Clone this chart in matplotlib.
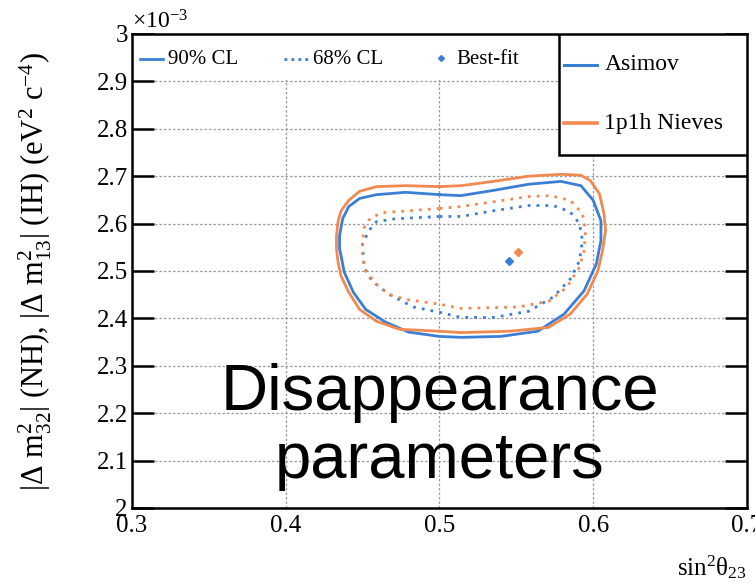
import matplotlib.pyplot as plt
from matplotlib.patches import Rectangle

plt.rcParams['font.family'] = ['Liberation Serif', 'DejaVu Serif']
plt.rcParams['mathtext.fontset'] = 'custom'
plt.rcParams['mathtext.rm'] = 'Liberation Serif'
plt.rcParams['mathtext.it'] = 'Liberation Serif:italic'

BLUE = '#3b7fd4'
ORANGE = '#f08a50'

# contours in (sin^2 theta23, |dm^2| in 1e-3 eV^2)
asimov_90_x = [0.500, 0.478, 0.459, 0.448, 0.441, 0.437, 0.435, 0.435, 0.436, 0.438, 0.444, 0.452, 0.465,
               0.480, 0.500, 0.514, 0.540, 0.564, 0.581, 0.594, 0.602, 0.605, 0.605, 0.600, 0.592, 0.579,
               0.558, 0.535, 0.514]
asimov_90_y = [2.661, 2.666, 2.661, 2.653, 2.636, 2.610, 2.574, 2.547, 2.532, 2.498, 2.455, 2.419, 2.392,
               2.371, 2.362, 2.360, 2.362, 2.373, 2.409, 2.458, 2.515, 2.564, 2.606, 2.649, 2.680, 2.689,
               2.683, 2.670, 2.659]

nieves_90_x = [0.500, 0.478, 0.459, 0.448, 0.441, 0.436, 0.434, 0.433, 0.433, 0.434, 0.436, 0.441, 0.448,
               0.459, 0.474, 0.500, 0.514, 0.546, 0.571, 0.585, 0.596, 0.603, 0.606, 0.608, 0.607, 0.604,
               0.598, 0.592, 0.579, 0.558, 0.535, 0.514]
nieves_90_y = [2.678, 2.680, 2.678, 2.668, 2.649, 2.627, 2.604, 2.574, 2.547, 2.519, 2.489, 2.455, 2.419,
               2.394, 2.377, 2.373, 2.370, 2.373, 2.381, 2.409, 2.451, 2.500, 2.542, 2.585, 2.621, 2.663,
               2.691, 2.702, 2.704, 2.700, 2.689, 2.680]

asimov_68_x = [0.500, 0.471, 0.459, 0.454, 0.450, 0.451, 0.456, 0.467, 0.483, 0.500, 0.514, 0.535,
               0.558, 0.574, 0.585, 0.591, 0.593, 0.591, 0.585, 0.574, 0.558, 0.535, 0.514]
asimov_68_y = [2.615, 2.610, 2.604, 2.585, 2.557, 2.508, 2.479, 2.451, 2.424, 2.413, 2.402, 2.402,
               2.415, 2.445, 2.483, 2.521, 2.564, 2.600, 2.625, 2.638, 2.638, 2.627, 2.615]

nieves_68_x = [0.500, 0.480, 0.463, 0.455, 0.451, 0.450, 0.450, 0.452, 0.459, 0.467, 0.478, 0.500,
               0.514, 0.551, 0.571, 0.583, 0.591, 0.594, 0.595, 0.593, 0.585, 0.572, 0.558, 0.535, 0.514]
nieves_68_y = [2.632, 2.627, 2.623, 2.612, 2.591, 2.564, 2.528, 2.500, 2.472, 2.451, 2.440, 2.430,
               2.421, 2.424, 2.436, 2.466, 2.508, 2.542, 2.585, 2.621, 2.649, 2.659, 2.657, 2.646, 2.636]

best_fit_x = [0.545, 0.551]   # Asimov, Nieves
best_fit_y = [2.521, 2.540]

x_ticks = [0.3, 0.4, 0.5, 0.6, 0.7]
x_labels = ['0.3', '0.4', '0.5', '0.6', '0.7']
y_ticks = [2.0, 2.1, 2.2, 2.3, 2.4, 2.5, 2.6, 2.7, 2.8, 2.9, 3.0]
y_labels = ['2', '2.1', '2.2', '2.3', '2.4', '2.5', '2.6', '2.7', '2.8', '2.9', '3']


def closed(xs, ys):
    return list(xs) + [xs[0]], list(ys) + [ys[0]]


fig = plt.figure(figsize=(7.55, 5.87), dpi=100)
ax = fig.add_axes([0.1748, 0.1346, 0.8146, 0.8075])
ax.set_xlim(0.3, 0.7)
ax.set_ylim(2.0, 3.0)

ax.set_xticks(x_ticks, x_labels)
ax.set_yticks(y_ticks, y_labels)
ax.tick_params(axis='y', direction='in', length=16, width=1.8, labelsize=18,
               left=True, right=True, pad=3)
ax.tick_params(axis='x', length=0, labelsize=18, pad=5)
for s in ax.spines.values():
    s.set_linewidth(1.8)
ax.grid(True, color='#9a9a9a', ls=(0, (2, 1.6)), lw=0.9)
ax.set_axisbelow(True)

# contours
ax.plot(*closed(asimov_90_x, asimov_90_y), color=BLUE, lw=2.0, solid_joinstyle='round', zorder=3)
ax.plot(*closed(nieves_90_x, nieves_90_y), color=ORANGE, lw=2.0, solid_joinstyle='round', zorder=3)
ax.plot(*closed(asimov_68_x, asimov_68_y), color=BLUE, lw=2.0, ls=(0, (1, 2.2)), zorder=3)
ax.plot(*closed(nieves_68_x, nieves_68_y), color=ORANGE, lw=2.0, ls=(0, (1, 2.2)), zorder=3)
ax.plot(best_fit_x[0], best_fit_y[0], 'D', color=BLUE, ms=4, zorder=4)
ax.plot(best_fit_x[1], best_fit_y[1], 'D', color=ORANGE, ms=4, zorder=4)

# line style key across the top
tA = ax.transAxes
ax.add_patch(Rectangle((0.003, 0.903), 0.692, 0.094, transform=tA, facecolor='white',
                       edgecolor='none', zorder=2))
ax.plot([0.013, 0.050], [0.947, 0.947], color=BLUE, lw=2, transform=tA, zorder=5)
ax.text(0.058, 0.947, '90% CL', transform=tA, fontsize=15, va='center', zorder=5)
ax.plot([0.247, 0.286], [0.947, 0.947], color=BLUE, lw=2, ls=(0, (1, 1.5)), transform=tA, zorder=5)
ax.text(0.294, 0.947, '68% CL', transform=tA, fontsize=15, va='center', zorder=5)
ax.plot([0.503], [0.950], 'D', color=BLUE, ms=3, transform=tA, zorder=5)
ax.text(0.528, 0.947, 'Best-fit', transform=tA, fontsize=15, va='center', zorder=5)

# model key, upper right
ax.add_patch(Rectangle((0.695, 0.745), 0.305, 0.255, transform=tA, facecolor='white',
                       edgecolor='black', lw=1.8, zorder=4))
ax.plot([0.703, 0.756], [0.935, 0.935], color=BLUE, lw=2.2, transform=tA, zorder=5)
ax.text(0.768, 0.935, 'Asimov', transform=tA, fontsize=17, va='center', zorder=5)
ax.plot([0.703, 0.756], [0.812, 0.812], color=ORANGE, lw=2.6, transform=tA, zorder=5)
ax.text(0.768, 0.812, '1p1h Nieves', transform=tA, fontsize=17, va='center', zorder=5)

ax.text(0.0, 1.0, r'$\times$10$^{-3}$', transform=tA, fontsize=17, ha='left', va='bottom')

ax.set_ylabel(r'|$\Delta$ m$^{2}_{32}$| (NH), |$\Delta$ m$^{2}_{13}$| (IH) (eV$^{2}$ c$^{-4}$)',
              fontsize=22)
ax.yaxis.set_label_coords(-0.127, 0.5)
ax.text(1.0, -0.125, 'sin$^{2}$θ$_{23}$', transform=tA, fontsize=18, ha='right', va='center')

# overlay caption
ax.text(0.5, 0.207, 'Disappearance', transform=tA, fontsize=47, ha='center', va='baseline',
        family='Liberation Sans', zorder=6)
ax.text(0.5, 0.063, 'parameters', transform=tA, fontsize=47, ha='center', va='baseline',
        family='Liberation Sans', zorder=6)

fig.savefig('out.png', dpi=100)
